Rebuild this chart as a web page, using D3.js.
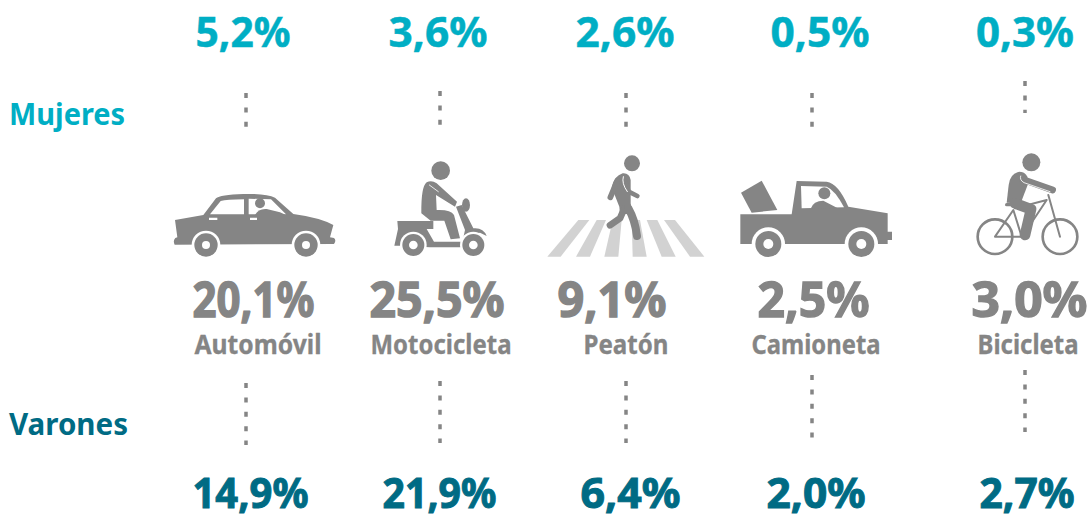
<!DOCTYPE html>
<html>
<head>
<meta charset="utf-8">
<script src="https://cdn.jsdelivr.net/npm/d3@7"></script>
<style>
html,body{margin:0;padding:0;background:#fff;overflow:hidden}
text{font-family:"Noto Sans",sans-serif;font-weight:700}
</style>
</head>
<body>
<div id="plot"></div>
<script>
var categories = ['Automóvil','Motocicleta','Peatón','Camioneta','Bicicleta'];
var mujeres = [5.2,3.6,2.6,0.5,0.3];
var varones = [14.9,21.9,6.4,2.0,2.7];
var totales = [20.1,25.5,9.1,2.5,3.0];

var w = 1091, h = 514;
var cyan = '#00aec4', teal = '#006b84', grey = '#858585', light = '#d2d2d2';

var fmt = d3.formatLocale({decimal:',',thousands:'.',grouping:[3],currency:['','']}).format('.1f');
var pct = function(d){return fmt(d)+'%'};

// columns are not evenly spaced in the original
var x = d3.scaleOrdinal().domain(categories).range([246,440,626,812,1025]);
var xTop = d3.scaleOrdinal().domain(categories).range([243,438,625,820,1025]);
var xTotal = d3.scaleOrdinal().domain(categories).range([253.5,437,612,813.5,1029.5]);
var xName = d3.scaleOrdinal().domain(categories).range([258,441,626,816,1028]);
var xBottom = d3.scaleOrdinal().domain(categories).range([250.5,439.5,630.5,816,1027]);
// widths, the original face is narrower than Noto
var wTop = [95,99,99,99,98], wTotal = [122,135,109,112,116], wName = [127,141,85,129,101], wBottom = [116,114,100,99,95];
// dotted rule ends [top y1, top y2, bottom y1, bottom y2]
var ruleY = d3.scaleOrdinal().domain(categories).range([[93,127,383,445],[91,125,381,443],[93,127,381,443],[93,127,375,438],[81,113,370,432]]);

var svg = d3.select('#plot').append('svg').attr('width',w).attr('height',h);

function rowText(cls,vals,xs,widths,y,size,col,heavy){
    svg.selectAll('text.'+cls)
        .data(vals)
        .enter()
        .append('text')
        .attr('class',cls)
        .attr('x',function(d,i){return xs(categories[i])})
        .attr('y',y)
        .attr('text-anchor','middle')
        .attr('textLength',function(d,i){return widths[i]})
        .attr('lengthAdjust','spacingAndGlyphs')
        .style('font-size',size+'px')
        .style('fill',col)
        .style('stroke',col)
        .style('stroke-width',heavy)
        .text(function(d){return typeof d==='number'?pct(d):d});
}
rowText('top',mujeres,xTop,wTop,47,42,cyan,0.5);
rowText('total',totales,xTotal,wTotal,317,49,grey,1.4);
rowText('name',categories,xName,wName,354,26,grey,0.3);
rowText('bottom',varones,xBottom,wBottom,508,42,teal,1);

svg.append('text').attr('x',9).attr('y',124.5).attr('textLength',116).attr('lengthAdjust','spacingAndGlyphs').style('font-size','31px').style('fill',cyan).text('Mujeres');
svg.append('text').attr('x',9).attr('y',435).attr('textLength',119).attr('lengthAdjust','spacingAndGlyphs').style('font-size','31px').style('fill',teal).text('Varones');

categories.forEach(function(c){
    var r = ruleY(c);
    [[r[0],r[1]],[r[2],r[3]]].forEach(function(p){
        svg.append('line')
            .attr('x1',x(c)).attr('x2',x(c))
            .attr('y1',p[0]).attr('y2',p[1])
            .attr('stroke','#858585').attr('stroke-width',3.5)
            .attr('stroke-dasharray','5 9.4');
    });
});

// icons are traced at 3x, so each group is scaled by 1/3
function icon(c,dx,top){
    return svg.append('g').attr('transform','translate('+(x(c)-dx)+','+top+') scale('+(1/3)+')');
}
function wheel(g,cx,cy,r,hole,arch){
    g.append('circle').attr('cx',cx).attr('cy',cy).attr('r',arch).attr('fill','#fff');
    g.append('circle').attr('cx',cx).attr('cy',cy).attr('r',r).attr('fill',grey);
    g.append('circle').attr('cx',cx).attr('cy',cy).attr('r',hole).attr('fill','#fff');
}
function fill(g,d,col){ return g.append('path').attr('d',d).attr('fill',col||grey); }
function stroke(g,d,sw,col){
    return g.append('path').attr('d',d).attr('fill','none').attr('stroke',col||grey)
        .attr('stroke-width',sw).attr('stroke-linecap','round').attr('stroke-linejoin','round');
}

// car
var car = icon('Automóvil',86,150);
fill(car,'M45 210L130 195L168 145Q180 134 250 132Q320 130 345 143L400 192Q480 203 520 225L510 262L522 264Q530 272 522 282L44 284Q38 272 46 264L52 262Z');
fill(car,'M150 193L182 153Q200 149 252 148L252 193Z','#fff');
fill(car,'M266 146L333 148L378 193L266 193Z','#fff');
car.append('circle').attr('cx',300).attr('cy',160).attr('r',15).attr('fill',grey);
fill(car,'M285 195Q295 175 320 177L360 187L378 195Z');
fill(car,'M147 203H172V210H147ZM270 203H291V210H270Z','#fff');
wheel(car,138,285,35,12,43);
wheel(car,438,285,35,12,43);

// scooter
var moto = icon('Motocicleta',280,150);
moto.append('circle').attr('cx',842).attr('cy',62).attr('r',28).attr('fill',grey);
fill(moto,'M712 213H820V237H800L822 275H905L905 292H810L725 287H703L714 237Z');
fill(moto,'M888 170L905 165L940 235Q970 232 980 258L960 248Q930 250 905 285L915 240Z');
moto.append('ellipse').attr('cx',918).attr('cy',165).attr('rx',12).attr('ry',20).attr('fill',grey);
fill(moto,'M800 97Q783 110 784 190L812 212H853L872 268L900 265L882 195Q872 178 830 180L828 135L885 170L891 155L830 100Q815 90 800 97Z');
stroke(moto,'M808 105L835 125',2.5,'#fff');
wheel(moto,760,285,33,13,40);
wheel(moto,940,285,33,13,40);

// pedestrian on the crossing
var walk = icon('Peatón',86,150);
['M115 210L148 210L62 320L22 320Z','M170 210L198 210L150 320L108 320Z','M218 210L245 210L235 320L193 320Z',
 'M275 210L300 210L320 320L278 320Z','M320 210L352 210L407 320L365 320Z','M372 210L405 210L493 320L450 320Z'
].forEach(function(d){ fill(walk,d,light); });
walk.append('circle').attr('cx',276).attr('cy',40).attr('r',24).attr('fill',grey);
fill(walk,'M248 70Q222 78 215 112L238 170L240 192L278 192L272 160L272 90Q268 68 248 70Z');
stroke(walk,'M232 92L211 142',17);
stroke(walk,'M258 100L266 125L292 138',14);
stroke(walk,'M253 175L240 205L210 226',20);
stroke(walk,'M265 175Q285 210 291 258',24);
stroke(walk,'M250 80Q244 100 262 125',3,'#fff');

// pickup
var truck = icon('Camioneta',272,150);
fill(truck,'M603 128L665 92L712 180L635 188Z');
fill(truck,'M601 193L755 193L770 93L860 95Q895 100 925 170L1043 190L1043 245L1056 245L1056 270L1043 270L1043 282L601 282Z');
fill(truck,'M783 108L860 110Q885 120 912 172L785 175Z','#fff');
truck.append('circle').attr('cx',853).attr('cy',130).attr('r',18).attr('fill',grey);
fill(truck,'M812 176Q820 152 850 152L892 174Z');
wheel(truck,685,282,39,15,50);
wheel(truck,964,282,39,15,50);

// cyclist
var bike = icon('Bicicleta',125,140);
[[285,290],[480,290]].forEach(function(p){
    bike.append('circle').attr('cx',p[0]).attr('cy',p[1]).attr('r',52).attr('fill','none').attr('stroke',grey).attr('stroke-width',8);
});
stroke(bike,'M285 290L340 210L365 290ZM345 205L440 180M440 180L370 285M445 165L480 290',6);
stroke(bike,'M320 194H358',10);
bike.append('circle').attr('cx',394).attr('cy',67).attr('r',27).attr('fill',grey);
fill(bike,'M358 95Q330 100 326 135L320 188L362 190L385 130Q385 95 358 95Z');
stroke(bike,'M368 118L458 150',20);
stroke(bike,'M345 190L393 208L375 285',32);
stroke(bike,'M362 108Q358 120 372 128L450 155',2.5,'#fff');
</script>
</body>
</html>
